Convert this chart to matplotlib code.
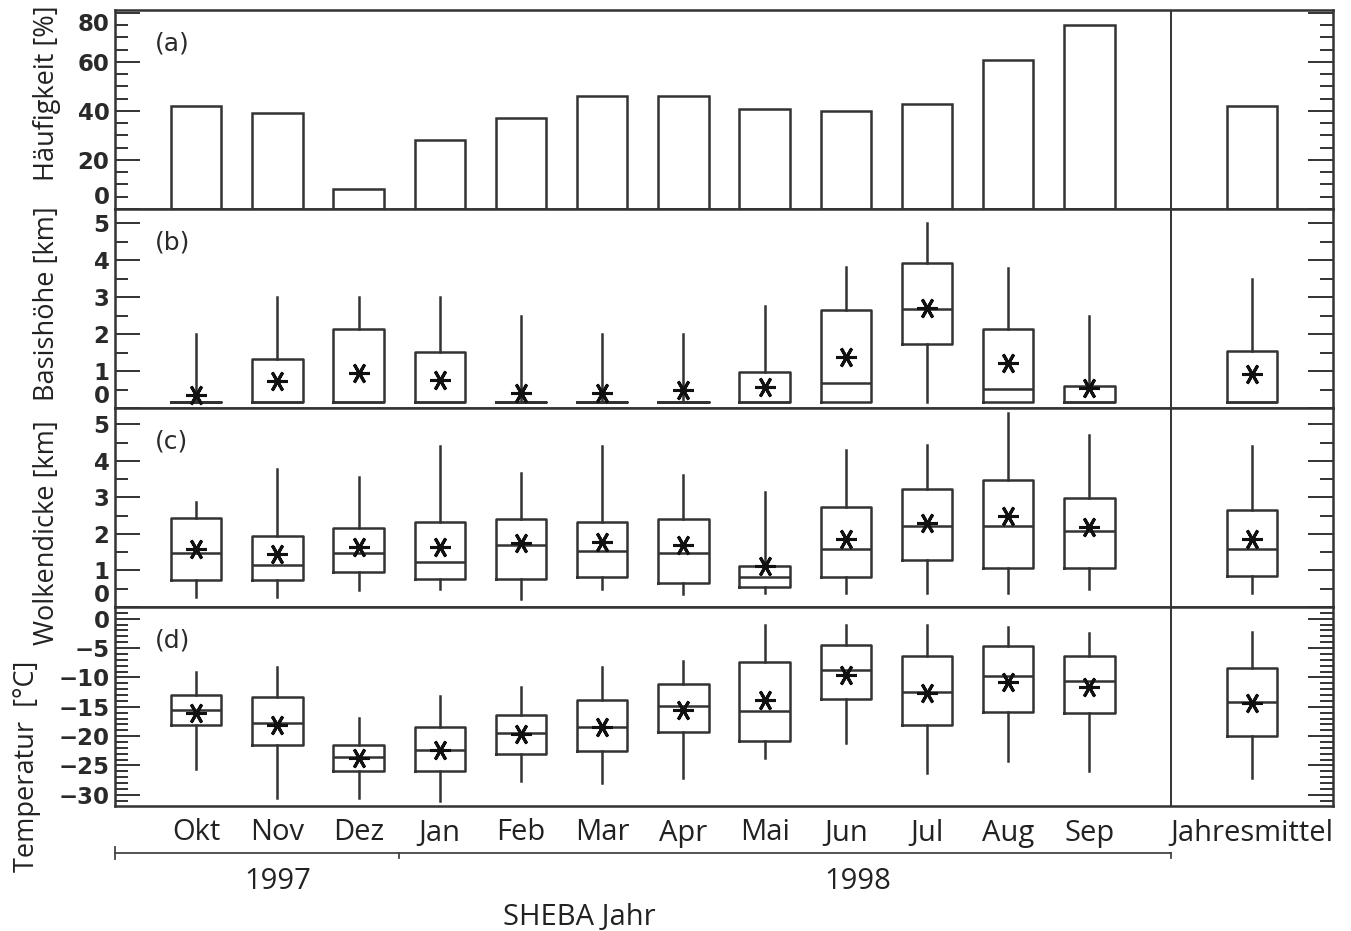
import matplotlib
matplotlib.use("Agg")
import matplotlib.pyplot as plt
import matplotlib.transforms as mtransforms
from matplotlib.ticker import MultipleLocator

# ---------------------------------------------------------------- data
categories = ["Okt", "Nov", "Dez", "Jan", "Feb", "Mar", "Apr", "Mai",
              "Jun", "Jul", "Aug", "Sep", "Jahresmittel"]
positions = list(range(12)) + [13]

# (a) frequency of occurrence [%]
haeufigkeit = [42, 39, 8, 28, 37, 46, 46, 41, 40, 43, 61, 75, 42]

# (b) cloud base height [km]
basis_low = [0.15] * 13
basis_q1 = [0.15, 0.15, 0.15, 0.15, 0.15, 0.15, 0.15, 0.15, 0.15, 1.73, 0.15, 0.15, 0.15]
basis_med = [0.15, 0.15, 0.15, 0.15, 0.15, 0.15, 0.15, 0.15, 0.69, 2.67, 0.51, 0.15, 0.15]
basis_q3 = [0.15, 1.32, 2.13, 1.53, 0.15, 0.15, 0.15, 0.98, 2.66, 3.92, 2.13, 0.60, 1.54]
basis_high = [2.0, 3.0, 3.0, 3.0, 2.5, 2.0, 2.0, 2.75, 3.83, 5.0, 3.8, 2.5, 3.5]
basis_mean = [0.35, 0.73, 0.96, 0.76, 0.40, 0.40, 0.50, 0.58, 1.39, 2.70, 1.21, 0.55, 0.91]

# (c) cloud thickness [km]
dicke_low = [0.28, 0.28, 0.47, 0.50, 0.22, 0.50, 0.36, 0.38, 0.38, 0.38, 0.38, 0.50, 0.38]
dicke_q1 = [0.75, 0.75, 0.97, 0.77, 0.77, 0.83, 0.65, 0.56, 0.83, 1.29, 1.07, 1.06, 0.86]
dicke_med = [1.49, 1.14, 1.48, 1.23, 1.69, 1.53, 1.49, 0.82, 1.58, 2.21, 2.21, 2.07, 1.58]
dicke_q3 = [2.44, 1.94, 2.15, 2.33, 2.40, 2.33, 2.40, 1.12, 2.73, 3.22, 3.48, 2.99, 2.65]
dicke_high = [2.88, 3.77, 3.57, 4.40, 3.66, 4.40, 3.62, 3.16, 4.31, 4.44, 5.32, 4.72, 4.40]
dicke_mean = [1.58, 1.46, 1.64, 1.64, 1.75, 1.78, 1.69, 1.11, 1.87, 2.30, 2.49, 2.19, 1.87]

# (d) temperature [°C]
temp_low = [-25.6, -30.6, -30.5, -31.1, -27.7, -27.9, -27.1, -23.8, -21.1, -26.3, -24.2, -25.9, -27.1]
temp_q1 = [-18.1, -21.5, -25.9, -25.9, -23.0, -22.6, -19.3, -20.9, -13.7, -18.1, -15.9, -16.1, -19.9]
temp_med = [-15.5, -17.7, -23.6, -22.4, -19.4, -18.5, -14.8, -15.7, -8.7, -12.4, -9.8, -10.6, -14.2]
temp_q3 = [-13.0, -13.4, -21.5, -18.5, -16.4, -13.8, -11.2, -7.3, -4.4, -6.3, -4.6, -6.3, -8.4]
temp_high = [-9.0, -8.2, -16.9, -13.1, -11.7, -8.2, -7.2, -1.0, -1.0, -1.0, -1.4, -2.5, -2.3]
temp_mean = [-16.1, -18.1, -23.7, -22.3, -19.6, -18.4, -15.5, -13.8, -9.5, -12.6, -10.7, -11.7, -14.3]

year_labels = ["1997", "1998"]

# ---------------------------------------------------------------- style
plt.rcParams["font.family"] = ["DejaVu Sans"]
INK = "#333333"
LABEL_FONT = ["Open Sans", "DejaVu Sans"]
TICK_SIZE = 16.5
LW = 1.8

W, H = 1351, 931
fig = plt.figure(figsize=(W / 100, H / 100), dpi=100)

x0_px, x1_px = 115, 1333
panel_h = 199
panel_tops = [10, 209, 408, 607]


def panel_rect(top):
    return [x0_px / W, 1 - (top + panel_h) / H, (x1_px - x0_px) / W, panel_h / H]


axes = [fig.add_axes(panel_rect(t)) for t in panel_tops]
ax_a, ax_b, ax_c, ax_d = axes

for ax in axes:
    ax.set_xlim(-1, 14)
    for sp in ax.spines.values():
        sp.set_color(INK)
        sp.set_linewidth(LW)
    ax.axvline(12, color=INK, lw=1.4)
    ax.tick_params(axis="x", which="both", bottom=False, top=False, labelbottom=False)
    ax.tick_params(axis="y", which="both", direction="in", left=True, right=True,
                   color=INK, width=1.4, labelsize=TICK_SIZE, labelcolor="#2a2a2a", pad=4)
    ax.tick_params(axis="y", which="major", length=18)
    ax.tick_params(axis="y", which="minor", length=9.5)

# (a) bars
ax_a.bar(positions, haeufigkeit, width=0.62, fill=False, edgecolor=INK, linewidth=LW)
ax_a.set_ylim(0, 81.2)
ax_a.set_yticks([0, 20, 40, 60, 80])
ax_a.yaxis.set_minor_locator(MultipleLocator(5))


def boxes(ax, lo, q1, med, q3, hi, mean):
    stats = [dict(whislo=a, q1=b, med=c, q3=d, whishi=e, mean=f)
             for a, b, c, d, e, f in zip(lo, q1, med, q3, hi, mean)]
    ax.bxp(stats, positions=positions, widths=0.62, showcaps=False, showfliers=False,
           showmeans=True, manage_ticks=False,
           boxprops=dict(color=INK, linewidth=LW),
           whiskerprops=dict(color=INK, linewidth=LW),
           medianprops=dict(color=INK, linewidth=LW),
           meanprops=dict(marker=(6, 2, 90), markersize=15, markeredgecolor="#111111",
                          markerfacecolor="none", markeredgewidth=2.2, linestyle="none"))


boxes(ax_b, basis_low, basis_q1, basis_med, basis_q3, basis_high, basis_mean)
ax_b.set_ylim(0, 5.39)
ax_b.set_yticks(range(0, 6))
ax_b.yaxis.set_minor_locator(MultipleLocator(0.5))

boxes(ax_c, dicke_low, dicke_q1, dicke_med, dicke_q3, dicke_high, dicke_mean)
ax_c.set_ylim(0, 5.45)
ax_c.set_yticks(range(0, 6))
ax_c.yaxis.set_minor_locator(MultipleLocator(0.5))

boxes(ax_d, temp_low, temp_q1, temp_med, temp_q3, temp_high, temp_mean)
ax_d.set_ylim(-31.9, 2.0)
ax_d.set_yticks(range(-30, 1, 5))
ax_d.yaxis.set_minor_locator(MultipleLocator(1))

# heavier numerals on the value axes
for ax in axes:
    for lab in ax.get_yticklabels():
        lab.set_fontweight("bold")

# edge labels sit inside the frame instead of straddling the panel border
for ax in (ax_a, ax_b, ax_c):
    ax.yaxis.get_major_ticks()[0].label1.set_va("bottom")
ax_a.yaxis.get_major_ticks()[-1].label1.set_va("top")

# panel letters
for ax, letter in zip(axes, ["(a)", "(b)", "(c)", "(d)"]):
    ax.text(0.033, 0.834, letter, transform=ax.transAxes, ha="left", va="center",
            fontsize=18, color="#2a2a2a")

# y-axis labels
ylabels = [(ax_a, "Häufigkeit [%]", -0.0560, 0.583),
           (ax_b, "Basishöhe [km]", -0.0560, 0.523),
           (ax_c, "Wolkendicke [km]", -0.0560, 0.372),
           (ax_d, "Temperatur  [°C]", -0.0720, 0.201)]
for ax, txt, lx, ly in ylabels:
    ax.set_ylabel(txt, family=LABEL_FONT, fontsize=19.5, color="#222222", va="center")
    ax.yaxis.set_label_coords(lx, ly)

# month labels under the bottom panel
ax_d.set_xticks(positions, categories)
ax_d.tick_params(axis="x", which="major", bottom=True, length=0, labelbottom=True, pad=9,
                 labelsize=21, labelcolor="#222222")
for lab in ax_d.get_xticklabels():
    lab.set_family(LABEL_FONT)

# season bracket: 1997 (Okt-Dez) and 1998 (Jan-Sep)
trans = mtransforms.blended_transform_factory(ax_d.transData, ax_d.transAxes)
y_line = -0.236
ax_d.plot([-1, 12], [y_line, y_line], transform=trans, color="#444444", lw=1.3, clip_on=False)
ax_d.plot([-1, -1], [y_line - 0.03, y_line + 0.03], transform=trans, color="#444444", lw=1.3,
          clip_on=False)
for xt in (2.5, 12):
    ax_d.plot([xt, xt], [y_line, y_line - 0.025], transform=trans, color="#444444", lw=1.3,
              clip_on=False)
ax_d.text(1.0, -0.38, year_labels[0], transform=trans, ha="center", va="center",
          family=LABEL_FONT, fontsize=21, color="#222222")
ax_d.text(8.15, -0.38, year_labels[1], transform=trans, ha="center", va="center",
          family=LABEL_FONT, fontsize=21, color="#222222")
ax_d.text(4.72, -0.558, "SHEBA Jahr", transform=trans, ha="center", va="center",
          family=LABEL_FONT, fontsize=21, color="#222222")

fig.savefig("out.png", dpi=100)
